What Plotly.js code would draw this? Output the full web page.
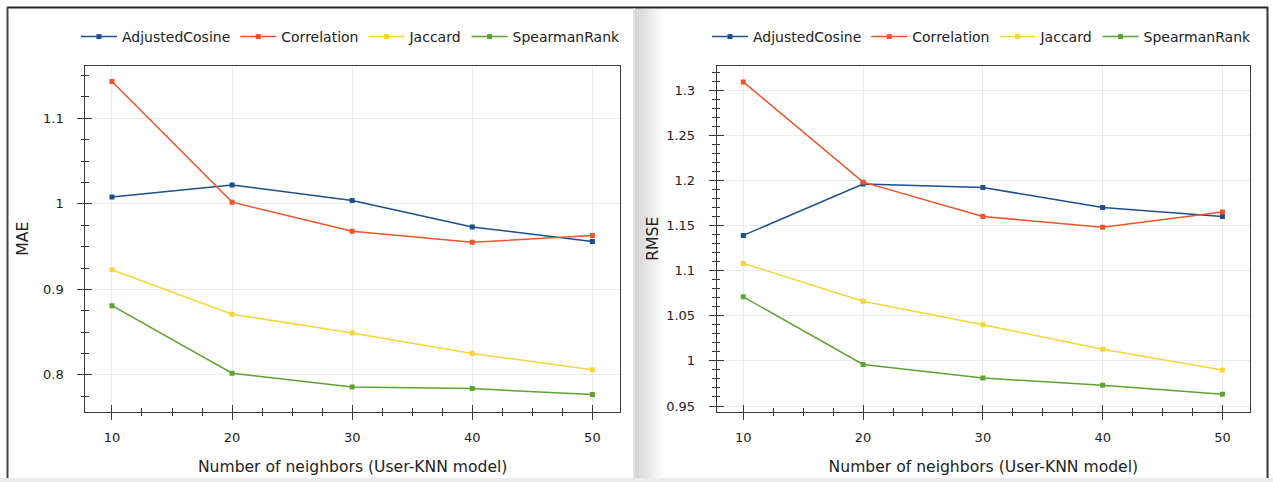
<!DOCTYPE html>
<html><head><meta charset="utf-8">
<script src="https://cdn.plot.ly/plotly-3.0.1.min.js"></script>
<style>html,body{margin:0;padding:0;background:#fff}#chart{width:1273px;height:482px}</style>
</head><body><div id="chart"></div><script>
// ---- data ----
const neighbors = [10, 20, 30, 40, 50];
const seriesNames = ['AdjustedCosine', 'Correlation', 'Jaccard', 'SpearmanRank'];
const maeAdjustedCosine = [1.008, 1.022, 1.004, 0.973, 0.956];
const maeCorrelation    = [1.143, 1.002, 0.968, 0.955, 0.963];
const maeJaccard        = [0.923, 0.871, 0.849, 0.825, 0.806];
const maeSpearmanRank   = [0.881, 0.802, 0.786, 0.784, 0.777];
const rmseAdjustedCosine = [1.139, 1.196, 1.192, 1.170, 1.160];
const rmseCorrelation    = [1.309, 1.198, 1.160, 1.148, 1.165];
const rmseJaccard        = [1.108, 1.066, 1.040, 1.013, 0.990];
const rmseSpearmanRank   = [1.071, 0.996, 0.981, 0.973, 0.963];
const xTitle = 'Number of neighbors (User-KNN model)';
const yTitleLeft = 'MAE';
const yTitleRight = 'RMSE';

// ---- styling ----
const W = 1273, H = 482;
const colors = ['#1c4f8b', '#f0542a', '#f7d43c', '#5ea332'];
const FONT = 'DejaVu Sans, Verdana, sans-serif';
const px = v => v / W, py = v => 1 - v / H;

const maeSeries = [maeAdjustedCosine, maeCorrelation, maeJaccard, maeSpearmanRank];
const rmseSeries = [rmseAdjustedCosine, rmseCorrelation, rmseJaccard, rmseSpearmanRank];

const traces = [];
maeSeries.forEach((ys, i) => traces.push({
  type: 'scatter', mode: 'lines+markers', name: seriesNames[i], x: neighbors, y: ys,
  xaxis: 'x', yaxis: 'y', legend: 'legend',
  line: {color: colors[i], width: 1.5}, marker: {symbol: 'square', size: 5, color: colors[i]}
}));
rmseSeries.forEach((ys, i) => traces.push({
  type: 'scatter', mode: 'lines+markers', name: seriesNames[i], x: neighbors, y: ys,
  xaxis: 'x2', yaxis: 'y2', legend: 'legend2',
  line: {color: colors[i], width: 1.5}, marker: {symbol: 'square', size: 5, color: colors[i]}
}));
// helper traces so the inside-tick overlay axes are drawn
traces.push({type: 'scatter', x: [null], y: [null], xaxis: 'x3', yaxis: 'y3', showlegend: false, hoverinfo: 'skip'});
traces.push({type: 'scatter', x: [null], y: [null], xaxis: 'x4', yaxis: 'y4', showlegend: false, hoverinfo: 'skip'});

const xRange = [7.78, 52.3];
const yRangeL = [0.757, 1.1615];
const yRangeR = [0.9437, 1.327];
const domXL = [px(85.3), px(620)];
const domXR = [px(716.7), px(1250)];
const domY = [py(411.7), py(65.7)];
const axisCol = '#3a3a3a';
const tickFont = {family: FONT, size: 13, color: '#222'};

function mainX(domain, anchor) {
  return {domain, anchor, range: xRange, tick0: 10, dtick: 10, ticks: 'outside', ticklen: 7,
    tickcolor: axisCol, showline: true, linecolor: axisCol, linewidth: 1, mirror: true,
    showgrid: true, gridcolor: '#ebebeb', zeroline: false, tickfont: tickFont, ticklabelstandoff: 7,
    minor: {dtick: 2.5, ticks: 'outside', ticklen: 3.5, tickcolor: axisCol, showgrid: false},
    title: {text: xTitle, font: {family: FONT, size: 15.6, color: '#222'}, standoff: 16}};
}
function mainY(domain, anchor, range, dtick, mdtick, title, standoff) {
  return {domain, anchor, range, dtick, tick0: 0, ticks: 'outside', ticklen: 7,
    tickcolor: axisCol, showline: true, linecolor: axisCol, linewidth: 1, mirror: true,
    showgrid: true, gridcolor: '#ebebeb', zeroline: false, tickfont: tickFont, ticklabelstandoff: 11,
    minor: {dtick: mdtick, ticks: 'outside', ticklen: 3.5, tickcolor: axisCol, showgrid: false},
    title: {text: title, font: {family: FONT, size: 15.6, color: '#222'}, standoff}};
}
function overX(over, anchor, domain) {
  return {overlaying: over, anchor, domain, range: xRange, tick0: 10, dtick: 10, ticks: 'inside', ticklen: 7,
    tickcolor: axisCol, showline: false, showgrid: false, zeroline: false, showticklabels: false,
    minor: {dtick: 2.5, ticks: 'inside', ticklen: 3.5, tickcolor: axisCol, showgrid: false}};
}
function overY(over, anchor, domain, range, dtick, mdtick) {
  return {overlaying: over, anchor, domain, range, tick0: 0, dtick, ticks: 'inside', ticklen: 7,
    tickcolor: axisCol, showline: false, showgrid: false, zeroline: false, showticklabels: false,
    minor: {dtick: mdtick, ticks: 'inside', ticklen: 3.5, tickcolor: axisCol, showgrid: false}};
}

const legendBase = {orientation: 'h', yanchor: 'middle', y: py(37), xanchor: 'left',
  font: {family: FONT, size: 14, color: '#222'}, bgcolor: 'rgba(0,0,0,0)', itemwidth: 36,
  itemclick: false, itemdoubleclick: false};

// decorative panel frame
const shapes = [
  {type: 'line', xref: 'paper', yref: 'paper', x0: px(7), x1: px(1268), y0: py(7.5), y1: py(7.5), line: {color: '#222', width: 2}},
  {type: 'line', xref: 'paper', yref: 'paper', x0: px(7.5), x1: px(7.5), y0: py(7), y1: py(478), line: {color: '#444', width: 2}},
  {type: 'line', xref: 'paper', yref: 'paper', x0: px(1267.5), x1: px(1267.5), y0: py(7), y1: py(478), line: {color: '#333', width: 2}},
  {type: 'rect', xref: 'paper', yref: 'paper', x0: 0, x1: 1, y0: 0, y1: py(478), line: {width: 0}, fillcolor: '#ececec'},
  {type: 'line', xref: 'paper', yref: 'paper', x0: px(634), x1: px(634), y0: py(8), y1: py(478), line: {color: '#dadada', width: 1.5}},
];
for (let k = 0; k < 14; k++) {
  shapes.push({type: 'rect', xref: 'paper', yref: 'paper', x0: px(635), x1: px(637 + k * 2),
    y0: py(478), y1: py(8.5), line: {width: 0}, fillcolor: 'rgba(0,0,0,0.012)', layer: 'below'});
}

const layout = {
  width: W, height: H, margin: {l: 0, r: 0, t: 0, b: 0},
  paper_bgcolor: '#ffffff', plot_bgcolor: 'rgba(0,0,0,0)',
  font: {family: FONT, color: '#222'},
  xaxis: mainX(domXL, 'y'),
  yaxis: mainY(domY, 'x', yRangeL, 0.1, 0.025, yTitleLeft, 10),
  xaxis2: mainX(domXR, 'y2'),
  yaxis2: mainY(domY, 'x2', yRangeR, 0.05, 0.01, yTitleRight, 3),
  xaxis3: overX('x', 'y3', domXL),
  yaxis3: overY('y', 'x3', domY, yRangeL, 0.1, 0.025),
  xaxis4: overX('x2', 'y4', domXR),
  yaxis4: overY('y2', 'x4', domY, yRangeR, 0.05, 0.01),
  legend: Object.assign({}, legendBase, {x: px(76)}),
  legend2: Object.assign({}, legendBase, {x: px(707)}),
  shapes, showlegend: true, hovermode: false
};

Plotly.newPlot('chart', traces, layout, {staticPlot: true, displayModeBar: false});
</script></body></html>
